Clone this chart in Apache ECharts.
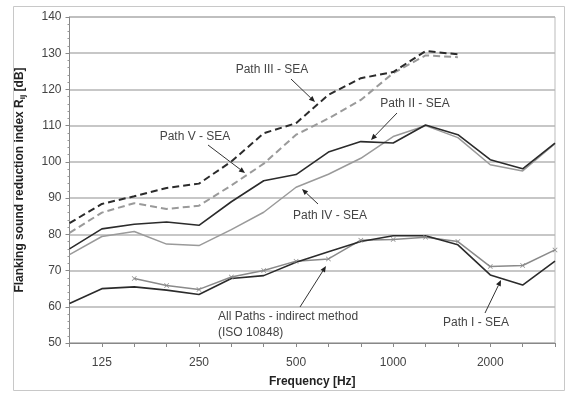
<!DOCTYPE html>
<html><head><meta charset="utf-8">
<script src="https://cdn.jsdelivr.net/npm/echarts@6/dist/echarts.min.js"></script>
<style>html,body{margin:0;padding:0;background:#fff}#c{width:570px;height:396px}</style>
</head><body><div id="c"></div>
<script>
const frequencies = ['100','125','160','200','250','315','400','500','630','800','1000','1250','1600','2000','2500','3150'];
const shownLabels = ['125','250','500','1000','2000'];
const yTicks = {min: 50, max: 140, step: 10};

const pathIII = [83.1, 88.4, 90.5, 92.8, 94.0, 100.1, 107.9, 110.7, 118.5, 123.1, 124.8, 130.6, 129.7, null, null, null];
const pathV   = [80.4, 86.0, 88.6, 87.0, 87.9, 93.5, 99.5, 107.5, 112.0, 117.1, 124.5, 129.4, 128.9, null, null, null];
const pathII  = [76.0, 81.5, 82.8, 83.4, 82.5, 89.0, 94.8, 96.5, 102.7, 105.6, 105.2, 110.2, 107.5, 100.6, 98.1, 105.2];
const pathIV  = [74.4, 79.4, 80.8, 77.3, 76.9, 81.3, 86.1, 93.0, 96.6, 101.0, 107.0, 110.0, 106.7, 99.2, 97.5, 105.0];
const pathI   = [60.9, 65.0, 65.5, 64.6, 63.4, 67.8, 68.6, 72.3, 75.2, 78.0, 79.6, 79.6, 77.1, 68.8, 66.0, 72.6];
const allPaths= [null, null, 67.8, 65.9, 64.8, 68.2, 70.0, 72.6, 73.2, 78.4, 78.6, 79.2, 78.0, 71.1, 71.4, 75.7];

const FONT = 'Liberation Sans, Arial, sans-serif';

function arrow(x1, y1, x2, y2) {
  const a = Math.atan2(y2 - y1, x2 - x1), L = 6, W = 2.6;
  const bx = x2 - L * Math.cos(a), by = y2 - L * Math.sin(a);
  const px = -Math.sin(a) * W, py = Math.cos(a) * W;
  return [
    {type: 'line', z: 100, shape: {x1, y1, x2: bx, y2: by}, style: {stroke: '#333', lineWidth: 1}},
    {type: 'polygon', z: 100, shape: {points: [[x2, y2], [bx + px, by + py], [bx - px, by - py]]}, style: {fill: '#222'}}
  ];
}
function label(text, x, y, align) {
  return {type: 'text', z: 100, x, y, style: {text, fill: '#444', font: '12px ' + FONT, align: align || 'center', verticalAlign: 'middle'}};
}

const graphics = [
  {type: 'rect', shape: {x: 13.5, y: 6.5, width: 551, height: 384}, style: {fill: 'none', stroke: '#c8c8c8', lineWidth: 1}, z: -10},
  label('Path III - SEA', 272, 70),
  ...arrow(291, 79, 315, 102),
  label('Path V - SEA', 195, 137),
  ...arrow(208, 145, 245, 173),
  label('Path II - SEA', 415, 104),
  ...arrow(397, 113, 371, 140),
  label('Path IV - SEA', 330, 216),
  ...arrow(318, 204, 302, 189),
  label('All Paths - indirect method', 218, 317, 'left'),
  label('(ISO 10848)', 218, 333, 'left'),
  ...arrow(300, 307, 326, 266),
  label('Path I - SEA', 476, 323),
  ...arrow(485, 313, 501, 280)
];

function lineSeries(name, data, color, width, dashed) {
  return {
    name, type: 'line', data, showSymbol: false, symbol: 'none', connectNulls: false,
    lineStyle: {color, width, type: dashed ? [7, 4] : 'solid'},
    itemStyle: {color}, animation: false, z: 3
  };
}

const chart = echarts.init(document.getElementById('c'), null, {renderer: 'canvas'});
chart.setOption({
  animation: false,
  backgroundColor: '#fff',
  grid: {left: 69.5, right: 15, top: 17, bottom: 53, containLabel: false,
         show: true, borderColor: '#bbb', borderWidth: 1},
  xAxis: {
    type: 'category', data: frequencies, boundaryGap: false,
    name: 'Frequency [Hz]', nameLocation: 'middle', nameGap: 33,
    nameTextStyle: {fontFamily: FONT, fontWeight: 'bold', fontSize: 12, color: '#222'},
    axisLine: {lineStyle: {color: '#888', width: 1}},
    axisTick: {show: true, interval: 0, length: 4, lineStyle: {color: '#888'}},
    axisLabel: {interval: 0, formatter: v => shownLabels.includes(v) ? v : '',
                fontFamily: FONT, fontSize: 12, color: '#444', margin: 14},
    splitLine: {show: false}
  },
  yAxis: {
    type: 'value', min: yTicks.min, max: yTicks.max, interval: yTicks.step,
    name: '{n|Flanking sound reduction index R}{s|ij}{n| [dB]}', nameLocation: 'middle', nameGap: 43,
    nameRotate: 90,
    nameTextStyle: {rich: {
      n: {fontFamily: FONT, fontWeight: 'bold', fontSize: 12, color: '#222'},
      s: {fontFamily: FONT, fontWeight: 'bold', fontSize: 8, color: '#222', verticalAlign: 'bottom', padding: [6, 0, 0, 0]}
    }},
    axisLine: {show: true, lineStyle: {color: '#888', width: 1}},
    axisTick: {show: true, length: 4, lineStyle: {color: '#888'}},
    minorTick: {show: true, splitNumber: 5, length: 2, lineStyle: {color: '#999'}},
    axisLabel: {fontFamily: FONT, fontSize: 12, color: '#444', margin: 8},
    splitLine: {show: true, lineStyle: {color: '#b4b4b4', width: 1.5}}
  },
  graphic: graphics,
  series: [
    lineSeries('Path IV - SEA', pathIV, '#9a9a9a', 1.5, false),
    lineSeries('Path V - SEA', pathV, '#9a9a9a', 2, true),
    Object.assign(lineSeries('All Paths', allPaths, '#8a8a8a', 1.5, false), {
      showSymbol: true,
      symbol: 'path://M0,1L1,0L5,4L9,0L10,1L6,5L10,9L9,10L5,6L1,10L0,9L4,5Z',
      symbolSize: 5
    }),
    lineSeries('Path II - SEA', pathII, '#2b2b2b', 1.6, false),
    lineSeries('Path III - SEA', pathIII, '#2b2b2b', 2, true),
    lineSeries('Path I - SEA', pathI, '#2b2b2b', 1.6, false)
  ]
});
</script>
</body></html>
